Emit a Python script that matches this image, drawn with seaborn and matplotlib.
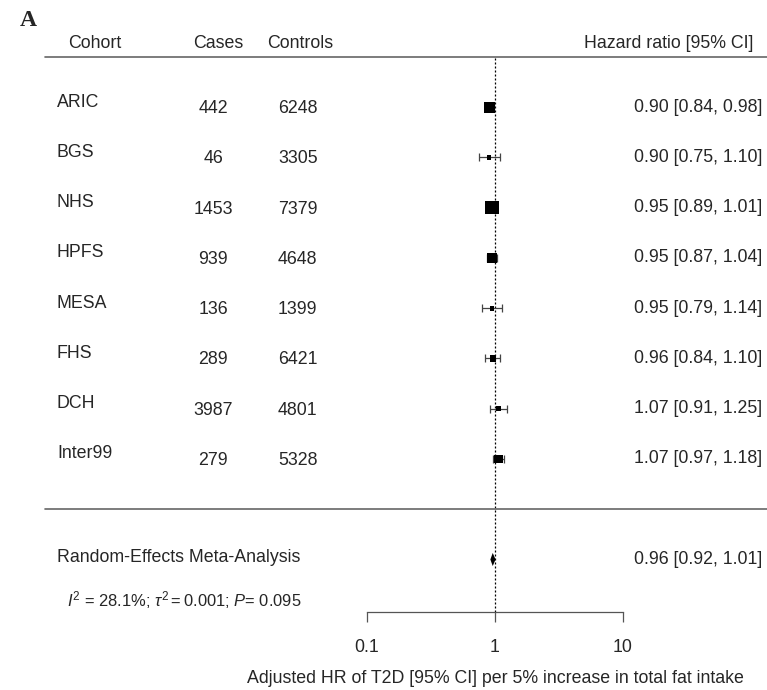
import numpy as np
import pandas as pd
import matplotlib
matplotlib.use("Agg")
import matplotlib.pyplot as plt
import matplotlib.transforms as mtransforms
import seaborn as sns

# ---------------- data ----------------
cohorts = ["ARIC", "BGS", "NHS", "HPFS", "MESA", "FHS", "DCH", "Inter99"]
cases = [442, 46, 1453, 939, 136, 289, 3987, 279]
controls = [6248, 3305, 7379, 4648, 1399, 6421, 4801, 5328]
hr = [0.90, 0.90, 0.95, 0.95, 0.95, 0.96, 1.07, 1.07]
ci_low = [0.84, 0.75, 0.89, 0.87, 0.79, 0.84, 0.91, 0.97]
ci_high = [0.98, 1.10, 1.01, 1.04, 1.14, 1.10, 1.25, 1.18]
meta_label = "Random-Effects Meta-Analysis"
meta_hr, meta_low, meta_high = 0.96, 0.92, 1.01
tau2 = 0.001
stats_label = r"$I^2$ = 28.1%; $\tau^2 = 0.001$; $P$= 0.095"
x_ticks = [0.1, 1, 10]
x_tick_labels = ["0.1", "1", "10"]
x_label = "Adjusted HR of T2D [95% CI] per 5% increase in total fat intake"
headers = ["Cohort", "Cases", "Controls", "Hazard ratio [95% CI]"]

# ---------------- style ----------------
sns.set_style("white")
plt.rcParams["font.family"] = ["Liberation Sans", "DejaVu Sans"]
plt.rcParams["mathtext.fontset"] = "custom"
plt.rcParams["mathtext.rm"] = "Liberation Sans"
plt.rcParams["mathtext.it"] = "Liberation Sans:italic"
plt.rcParams["mathtext.sf"] = "Liberation Sans"

FS = 12.8
W, H = 767, 690
fig = plt.figure(figsize=(W / 100, H / 100), dpi=100)

# axes covering 0.1..10 horizontally; pixel rows 0..612 vertically
x0, x1 = 367, 623
ybot, ytop = 612, 0
ax = fig.add_axes([x0 / W, (H - ybot) / H, (x1 - x0) / W, (ybot - ytop) / H])
ax.set_xscale("log")

k = len(cohorts)
rows = np.arange(k, 0, -1)
df = pd.DataFrame({"cohort": cohorts, "cases": cases, "controls": controls,
                   "hr": hr, "lo": ci_low, "hi": ci_high, "row": rows})

# marker sizes from random-effects weights (metafor style)
se = (np.log(df["hi"]) - np.log(df["lo"])) / (2 * 1.959964)
w = 1.0 / (se ** 2 + tau2)
psize = (w - w.min()) / (w.max() - w.min()) + 0.5
side_pt = 9.0 * psize * 72 / 100
df["area"] = side_pt ** 2

# confidence intervals
ax.errorbar(df["hr"], df["row"],
            xerr=[df["hr"] - df["lo"], df["hi"] - df["hr"]],
            fmt="none", ecolor="#444444", elinewidth=0.9,
            capsize=3.2, capthick=0.9, zorder=2)
sns.scatterplot(data=df, x="hr", y="row", marker="s", color="black",
                s=df["area"], linewidth=0, legend=False, ax=ax, zorder=3)

# summary diamond
dh = 0.13
ax.fill([meta_low, meta_hr, meta_high, meta_hr], [-1, -1 + dh, -1, -1 - dh],
        color="black", lw=0, zorder=3)

# reference line
ylo = -2.045
ax.plot([1, 1], [ylo, k + 1], color="black", lw=0.9,
        linestyle=(0, (1.6, 1.6)), zorder=1, clip_on=False)

ax.set_xlim(0.1, 10)
ax.set_ylim(ylo, 10.134)
ax.set_xticks(x_ticks)
ax.set_xticklabels(x_tick_labels, fontsize=FS)
ax.minorticks_off()
ax.set_yticks([])
ax.set_ylabel("")
ax.set_xlabel(x_label, fontsize=FS, labelpad=10.5)
for s in ["top", "left", "right"]:
    ax.spines[s].set_visible(False)
ax.spines["bottom"].set_color("#555555")
ax.spines["bottom"].set_linewidth(0.9)
ax.tick_params(axis="x", direction="out", length=7.2, width=0.9,
               color="#555555", pad=12, bottom=True)
ax.set_facecolor("none")

tr = mtransforms.blended_transform_factory(fig.transFigure, ax.transData)

def fx(px):
    return px / W

# horizontal rules
for yline in [k + 1, 0]:
    ax.plot([fx(45), 1.0], [yline, yline], transform=tr, color="#666666",
            lw=1.2, clip_on=False, zorder=1)

# headers
hy = 9.27
ax.text(fx(68), hy, headers[0], transform=tr, ha="left", va="center", fontsize=FS)
ax.text(fx(193), hy, headers[1], transform=tr, ha="left", va="center", fontsize=FS)
ax.text(fx(267), hy, headers[2], transform=tr, ha="left", va="center", fontsize=FS)
ax.text(fx(753), hy, headers[3], transform=tr, ha="right", va="center", fontsize=FS)

# study rows
for _, r in df.iterrows():
    y = r["row"]
    ax.text(fx(57), y + 0.1, r["cohort"], transform=tr, ha="left", va="center", fontsize=FS)
    ax.text(fx(213), y - 0.03, f"{int(r['cases'])}", transform=tr, ha="center", va="center", fontsize=FS)
    ax.text(fx(278), y - 0.03, f"{int(r['controls'])}", transform=tr, ha="left", va="center", fontsize=FS)
    ax.text(fx(762), y, f"{r['hr']:.2f} [{r['lo']:.2f}, {r['hi']:.2f}]",
            transform=tr, ha="right", va="center", fontsize=FS)

# summary row
ax.text(fx(57), -1 + 0.03, meta_label, transform=tr, ha="left", va="center", fontsize=FS)
ax.text(fx(762), -1, f"{meta_hr:.2f} [{meta_low:.2f}, {meta_high:.2f}]",
        transform=tr, ha="right", va="center", fontsize=FS)
ax.text(fx(67), -1.81, stats_label, transform=tr, ha="left", va="center", fontsize=11.9)

# panel letter
fig.text(fx(20), 1 - 20 / H, "A", ha="left", va="center", fontsize=17,
         fontweight="bold", family=["Liberation Serif", "DejaVu Serif"])

fig.savefig("out.png", dpi=100)
